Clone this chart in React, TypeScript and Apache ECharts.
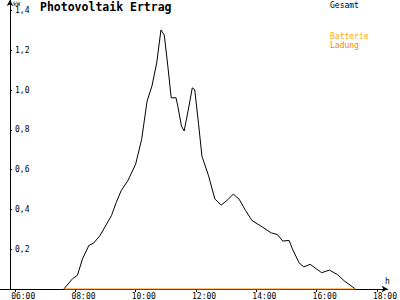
import React, { useEffect, useRef } from "react";
import * as echarts from "echarts";

// Photovoltaik Ertrag (kW) over time of day (hours)
const gesamtHours = [
  7.62, 7.91, 8.07, 8.24, 8.45, 8.61, 8.82, 9.04, 9.2, 9.36, 9.52, 9.74, 10.0,
  10.2, 10.38, 10.54, 10.7, 10.84, 10.95, 11.07, 11.18, 11.34, 11.4, 11.52,
  11.61, 11.77, 11.88, 11.96, 12.09, 12.2, 12.42, 12.63, 12.84, 13.06, 13.24,
  13.43, 13.65, 13.86, 14.13, 14.5, 14.7, 14.88, 15.09, 15.2, 15.42, 15.58,
  15.79, 16.17, 16.43, 16.7, 16.92, 17.29,
];
const gesamtKW = [
  0, 0.052, 0.069, 0.152, 0.219, 0.231, 0.269, 0.327, 0.369, 0.436, 0.494,
  0.544, 0.627, 0.752, 0.944, 1.019, 1.136, 1.302, 1.277, 1.119, 0.961, 0.961,
  0.919, 0.819, 0.794, 0.919, 1.011, 1.002, 0.827, 0.667, 0.569, 0.452, 0.422,
  0.449, 0.477, 0.452, 0.394, 0.344, 0.319, 0.282, 0.274, 0.241, 0.244, 0.202,
  0.132, 0.111, 0.124, 0.082, 0.095, 0.072, 0.041, 0,
];
const ladungHours = [7.62, 17.29];
const ladungKW = [0, 0];

const xTickHours = [6, 8, 10, 12, 14, 16, 18];
const yTickValues = [0.2, 0.4, 0.6, 0.8, 1.0, 1.2, 1.4];
const legendNames = ["Gesamt", "Batterie", "Ladung"];
const titleText = "Photovoltaik Ertrag";

const MONO = "'DejaVu Sans Mono', monospace";

export default function App() {
  const ref = useRef<HTMLDivElement>(null);
  useEffect(() => {
    if (!ref.current) return;
    const chart = echarts.init(ref.current, null, { renderer: "svg" });
    const pxPerHour = 31.1;
    const labelShift = 4 / pxPerHour;
    chart.setOption({
      animation: false,
      backgroundColor: "#ffffff",
      grid: { left: 0, right: 0, top: 0, bottom: 9.5, containLabel: false },
      xAxis: {
        type: "value",
        min: 6 - 15.5 / pxPerHour,
        max: 6 + 384.5 / pxPerHour,
        splitLine: { show: false },
        axisLine: {
          show: true,
          lineStyle: { color: "#000", width: 1 },
          symbol: ["none", "arrow"],
          symbolSize: [5, 6],
        },
        axisTick: {
          show: true,
          customValues: xTickHours,
          length: 3,
          lineStyle: { color: "#000" },
        },
        axisLabel: {
          show: true,
          customValues: xTickHours.map((h) => h - labelShift),
          align: "left",
          margin: 3,
          fontSize: 8,
          fontFamily: MONO,
          color: "#000",
          formatter: (v: number) => {
            const h = Math.round(v);
            return (h < 10 ? "0" + h : "" + h) + ":00";
          },
        },
      },
      yAxis: {
        type: "value",
        min: 0,
        max: 290.5 / 200,
        offset: -10,
        splitLine: { show: false },
        axisLine: {
          show: true,
          lineStyle: { color: "#000", width: 1 },
          symbol: ["none", "arrow"],
          symbolSize: [5, 6],
        },
        axisTick: {
          show: true,
          inside: true,
          length: 2,
          customValues: yTickValues,
          lineStyle: { color: "#000" },
        },
        axisLabel: {
          show: true,
          inside: true,
          margin: 5,
          customValues: yTickValues,
          fontSize: 8,
          fontFamily: MONO,
          color: "#000",
          formatter: (v: number) => v.toFixed(1).replace(".", ","),
        },
      },
      series: [
        {
          name: legendNames[0],
          type: "line",
          data: gesamtHours.map((h, i) => [h, gesamtKW[i]]),
          showSymbol: false,
          clip: false,
          lineStyle: { color: "#000", width: 1 },
          z: 3,
        },
        {
          name: legendNames[2],
          type: "line",
          data: ladungHours.map((h, i) => [h, ladungKW[i]]),
          showSymbol: false,
          clip: false,
          lineStyle: { color: "#ff8000", width: 1 },
          z: 4,
        },
      ],
      graphic: [
        {
          type: "text",
          left: 40,
          top: 1,
          style: {
            text: titleText,
            font: `bold 11.5px ${MONO}`,
            fill: "#000",
          },
        },
        {
          type: "text",
          left: 13,
          top: 0,
          style: { text: "kW", font: `6px ${MONO}`, fill: "#000" },
        },
        {
          type: "text",
          left: 385,
          top: 277,
          style: { text: "h", font: `8px ${MONO}`, fill: "#000" },
        },
        {
          type: "text",
          left: 330,
          top: 1,
          style: { text: legendNames[0], font: `8px ${MONO}`, fill: "#000" },
        },
        {
          type: "text",
          left: 330,
          top: 32,
          style: { text: legendNames[1], font: `8px ${MONO}`, fill: "#ffaa00" },
        },
        {
          type: "text",
          left: 330,
          top: 41,
          style: { text: legendNames[2], font: `8px ${MONO}`, fill: "#ff8000" },
        },
      ],
    });
    return () => chart.dispose();
  }, []);
  return (
    <div
      ref={ref}
      style={{ position: "absolute", left: 0, top: 0, width: 400, height: 300 }}
    />
  );
}
